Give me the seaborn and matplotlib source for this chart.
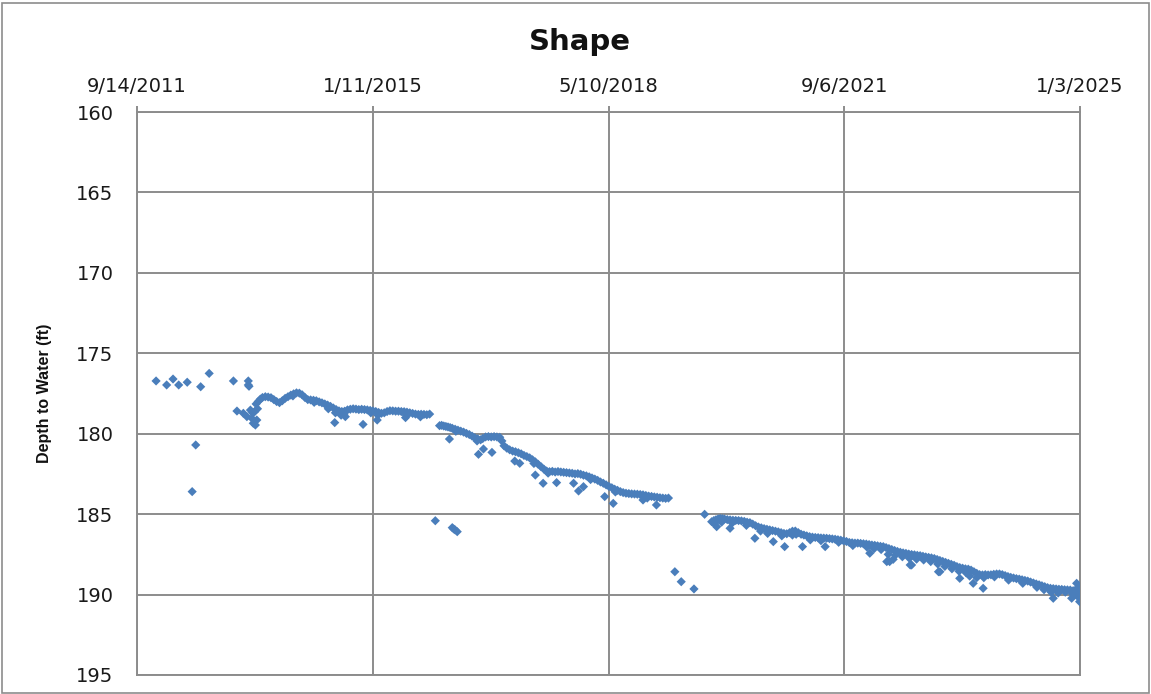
import numpy as np
import pandas as pd
import matplotlib
matplotlib.use("Agg")
import matplotlib.pyplot as plt
import seaborn as sns

# ---- data (decimal year, depth to water in ft) ----
early_years = [2011.97, 2012.12, 2012.21, 2012.29, 2012.41, 2012.60, 2012.72, 2012.53, 2012.48,
               2013.06, 2013.27, 2013.27, 2013.28, 2013.11, 2013.20,
               2013.25, 2013.30, 2013.32, 2013.34, 2013.37, 2013.39, 2013.36, 2013.33, 2013.40]
early_depth = [176.72, 176.97, 176.60, 176.97, 176.80, 177.08, 176.25, 180.70, 183.60,
               176.72, 176.72, 176.97, 177.05, 178.59, 178.73,
               178.94, 178.53, 179.04, 179.35, 179.46, 179.15, 178.63, 178.70, 178.45]

seg1_years = [2013.38, 2013.41, 2013.44, 2013.47, 2013.51, 2013.55, 2013.59, 2013.63, 2013.67, 2013.71,
              2013.75, 2013.79, 2013.83, 2013.87, 2013.91, 2013.95, 2013.99, 2014.03, 2014.07, 2014.11,
              2014.15, 2014.19, 2014.23, 2014.27, 2014.31, 2014.35, 2014.39, 2014.43, 2014.47, 2014.51,
              2014.55, 2014.59, 2014.63, 2014.67, 2014.71, 2014.75, 2014.79, 2014.83, 2014.87, 2014.91,
              2014.95, 2014.99, 2015.03, 2015.07, 2015.11, 2015.15, 2015.19, 2015.23, 2015.27, 2015.31,
              2015.35, 2015.39, 2015.43, 2015.47, 2015.51, 2015.55, 2015.59, 2015.63, 2015.67, 2015.71,
              2015.75, 2015.79, 2015.83,
              2014.40, 2014.50, 2014.58, 2014.62, 2015.00, 2015.10, 2015.50, 2015.70, 2013.90, 2014.20,
              2014.49, 2014.89, 2015.09, 2014.64, 2015.49]
seg1_depth = [178.15, 178.00, 177.85, 177.75, 177.70, 177.72, 177.76, 177.88, 178.00, 178.07,
              177.95, 177.80, 177.70, 177.60, 177.52, 177.46, 177.48, 177.58, 177.75, 177.88,
              177.90, 177.92, 177.95, 178.02, 178.08, 178.15, 178.22, 178.30, 178.40, 178.50,
              178.58, 178.62, 178.60, 178.52, 178.48, 178.45, 178.47, 178.50, 178.48, 178.50,
              178.52, 178.55, 178.58, 178.62, 178.68, 178.73, 178.70, 178.62, 178.57, 178.58,
              178.60, 178.60, 178.62, 178.63, 178.66, 178.70, 178.74, 178.78, 178.80, 178.79,
              178.80, 178.82, 178.78,
              178.45, 178.70, 178.85, 178.78, 178.70, 178.85, 178.85, 178.95, 177.65, 178.05,
              179.31, 179.42, 179.15, 178.94, 179.00]

seg2_years = [2015.97, 2016.00, 2016.03, 2016.06, 2016.09, 2016.12, 2016.15, 2016.19, 2016.23, 2016.27,
              2016.31, 2016.35, 2016.39, 2016.43, 2016.47, 2016.51, 2016.55, 2016.58, 2016.62, 2016.66,
              2016.70, 2016.74, 2016.78, 2016.82, 2016.85, 2016.88, 2016.92, 2016.96, 2017.00, 2017.04,
              2017.08, 2017.12, 2017.16, 2017.20, 2017.24, 2017.28, 2017.32, 2017.36, 2017.40, 2017.44,
              2017.48, 2017.52, 2017.56, 2017.60, 2017.64, 2017.68, 2017.72, 2017.76, 2017.80, 2017.84,
              2017.88, 2017.92, 2017.96, 2018.00, 2018.04, 2018.08, 2018.12, 2018.16, 2018.20, 2018.24,
              2018.28, 2018.32, 2018.36, 2018.40, 2018.44, 2018.48, 2018.52, 2018.56, 2018.60, 2018.64,
              2018.68, 2018.72, 2018.76, 2018.80, 2018.84, 2018.88, 2018.92, 2018.96, 2019.00, 2019.04,
              2019.08, 2019.12, 2019.16, 2019.20,
              2016.50, 2017.30, 2017.50, 2018.10, 2018.45, 2018.90, 2016.20,
              2016.11, 2016.52, 2016.59, 2016.71, 2017.03, 2017.10, 2017.32, 2017.43, 2017.62, 2017.86,
              2017.93, 2018.00, 2018.30, 2018.42, 2018.84, 2019.03]
seg2_depth = [179.50, 179.48, 179.52, 179.55, 179.58, 179.62, 179.66, 179.72, 179.78, 179.84,
              179.90, 179.98, 180.05, 180.15, 180.25, 180.32, 180.38, 180.30, 180.20, 180.18,
              180.20, 180.18, 180.20, 180.22, 180.45, 180.75, 180.90, 181.00, 181.08, 181.12,
              181.18, 181.25, 181.35, 181.42, 181.50, 181.62, 181.75, 181.90, 182.05, 182.20,
              182.32, 182.36, 182.34, 182.38, 182.35, 182.38, 182.40, 182.42, 182.44, 182.46,
              182.50, 182.48, 182.52, 182.58, 182.62, 182.68, 182.75, 182.82, 182.90, 183.00,
              183.08, 183.18, 183.28, 183.36, 183.45, 183.52, 183.60, 183.66, 183.70, 183.72,
              183.74, 183.75, 183.76, 183.78, 183.80, 183.84, 183.88, 183.90, 183.93, 183.95,
              183.98, 184.00, 184.02, 184.00,
              180.45, 181.85, 182.45, 182.85, 183.62, 184.00, 179.85,
              180.33, 181.28, 180.95, 181.16, 181.70, 181.84, 182.57, 183.08, 183.04, 183.08,
              183.56, 183.29, 183.91, 184.33, 184.12, 184.43]

low_years = [2015.91, 2016.15, 2016.17, 2016.19, 2016.22, 2019.29, 2019.38, 2019.56]
low_depth = [185.41, 185.84, 185.92, 185.98, 186.09, 188.58, 189.20, 189.65]

seg3_years = [2019.71, 2019.81, 2019.84, 2019.87, 2019.90, 2019.93, 2019.96, 2019.99, 2020.03, 2020.07,
              2020.11, 2020.15, 2020.19, 2020.23, 2020.27, 2020.31, 2020.35, 2020.39, 2020.43, 2020.47,
              2020.51, 2020.55, 2020.59, 2020.63, 2020.67, 2020.71, 2020.75, 2020.79, 2020.83, 2020.87,
              2020.91, 2020.95, 2020.99, 2021.03, 2021.07, 2021.11, 2021.15, 2021.19, 2021.23, 2021.27,
              2021.31, 2021.35, 2021.39, 2021.43, 2021.47, 2021.51, 2021.55, 2021.59, 2021.63, 2021.67,
              2021.71, 2021.75, 2021.79, 2021.83, 2021.87, 2021.91, 2021.95, 2021.99, 2022.03, 2022.07,
              2022.11, 2022.15, 2022.19, 2022.23, 2022.27, 2022.31, 2022.35, 2022.39, 2022.43, 2022.47,
              2022.51, 2022.55, 2022.59, 2022.63, 2022.67, 2022.71, 2022.75, 2022.79, 2022.83, 2022.87,
              2022.91, 2022.95, 2022.99, 2023.03, 2023.07, 2023.11, 2023.15, 2023.19, 2023.23, 2023.27,
              2023.31, 2023.35, 2023.39, 2023.43, 2023.47, 2023.51, 2023.55, 2023.59, 2023.63, 2023.67,
              2023.71, 2023.75, 2023.79, 2023.83, 2023.87, 2023.91, 2023.95, 2023.99, 2024.03, 2024.07,
              2024.11, 2024.15, 2024.19, 2024.23, 2024.27, 2024.31, 2024.35, 2024.39, 2024.43, 2024.47,
              2024.51, 2024.55, 2024.59, 2024.63, 2024.67, 2024.71, 2024.75, 2024.79, 2024.83, 2024.87,
              2024.91, 2024.95, 2024.99]
seg3_depth = [185.01, 185.47, 185.40, 185.35, 185.30, 185.27, 185.28, 185.30, 185.34, 185.36,
              185.38, 185.39, 185.40, 185.42, 185.45, 185.50, 185.53, 185.62, 185.72, 185.80,
              185.85, 185.90, 185.94, 185.98, 186.02, 186.06, 186.10, 186.15, 186.20, 186.22,
              186.15, 186.06, 186.05, 186.15, 186.25, 186.30, 186.35, 186.40, 186.43, 186.45,
              186.46, 186.48, 186.49, 186.50, 186.52, 186.54, 186.56, 186.59, 186.62, 186.66,
              186.70, 186.76, 186.78, 186.80, 186.80, 186.82, 186.84, 186.86, 186.89, 186.92,
              186.94, 186.97, 187.00, 187.02, 187.08, 187.14, 187.20, 187.26, 187.32, 187.37,
              187.41, 187.44, 187.48, 187.51, 187.53, 187.56, 187.58, 187.62, 187.66, 187.69,
              187.72, 187.76, 187.82, 187.88, 187.94, 188.00, 188.06, 188.12, 188.18, 188.26,
              188.32, 188.36, 188.40, 188.42, 188.48, 188.58, 188.68, 188.76, 188.78, 188.76,
              188.78, 188.77, 188.74, 188.72, 188.72, 188.76, 188.82, 188.88, 188.93, 188.97,
              189.01, 189.04, 189.08, 189.12, 189.16, 189.22, 189.28, 189.34, 189.39, 189.45,
              189.51, 189.57, 189.61, 189.63, 189.65, 189.67, 189.68, 189.70, 189.71, 189.72,
              189.76, 189.80, 189.85]

spread3_years = [2019.88, 2020.07, 2020.42, 2020.68, 2020.84, 2021.09, 2021.41, 2022.04, 2022.28, 2022.32,
                 2022.37, 2022.61, 2022.63, 2023.01, 2023.03, 2023.31, 2023.50, 2023.64, 2024.63, 2024.89,
                 2024.96, 2025.00,
                 2019.85, 2019.95, 2020.10, 2020.30, 2020.50, 2020.60, 2020.80, 2020.95, 2021.00, 2021.20,
                 2021.35, 2021.60, 2021.80, 2022.00, 2022.10, 2022.20, 2022.30, 2022.40, 2022.50, 2022.60,
                 2022.70, 2022.80, 2022.90, 2023.00, 2023.10, 2023.20, 2023.30, 2023.40, 2023.45, 2023.55,
                 2023.65, 2023.80, 2024.00, 2024.20, 2024.40, 2024.50, 2024.60, 2024.70, 2024.80, 2024.90,
                 2024.97, 2024.98]
spread3_depth = [185.78, 185.88, 186.50, 186.71, 187.02, 187.02, 187.02, 187.43, 187.95, 187.95,
                 187.81, 188.16, 188.16, 188.58, 188.58, 188.99, 189.30, 189.61, 190.23, 190.23,
                 189.30, 190.44,
                 185.60, 185.50, 185.55, 185.70, 186.05, 186.20, 186.35, 186.30, 186.25, 186.60,
                 186.65, 186.75, 186.95, 187.05, 187.15, 187.20, 187.50, 187.55, 187.65, 187.75,
                 187.80, 187.85, 187.95, 188.10, 188.25, 188.40, 188.55, 188.65, 188.85, 188.95,
                 188.95, 188.90, 189.10, 189.30, 189.55, 189.70, 189.85, 189.90, 189.85, 189.95,
                 190.10, 189.55]

tick_dates = ["2011-09-14", "2015-01-11", "2018-05-10", "2021-09-06", "2025-01-03"]
tick_labels = ["9/14/2011", "1/11/2015", "5/10/2018", "9/6/2021", "1/3/2025"]
y_ticks = [160, 165, 170, 175, 180, 185, 190, 195]


def year_to_date(y):
    yi = int(y)
    start = pd.Timestamp(f"{yi}-01-01")
    return start + pd.Timedelta(days=(y - yi) * 365.25)


years = early_years + seg1_years + seg2_years + low_years + seg3_years + spread3_years
depth = early_depth + seg1_depth + seg2_depth + low_depth + seg3_depth + spread3_depth
df = pd.DataFrame({"date": [year_to_date(y) for y in years], "depth": depth})

sns.set_style("white")
plt.rcParams['font.family'] = ['DejaVu Sans']

fig = plt.figure(figsize=(11.51, 6.94), dpi=100)
ax = fig.add_axes([137 / 1151, 1 - 675 / 694, (1080 - 137) / 1151, (675 - 112) / 694])

sns.scatterplot(data=df, x="date", y="depth", marker="D", s=22, color="#4A7EBB",
                edgecolor="none", linewidth=0, ax=ax, zorder=3)

ticks = pd.to_datetime(tick_dates)
ax.set_xlim(ticks[0], ticks[-1])
ax.set_ylim(195, 160)
ax.set_xticks(ticks)
ax.set_xticklabels(tick_labels)
ax.set_yticks(y_ticks)
ax.xaxis.tick_top()
ax.tick_params(axis="x", labelsize=14, pad=7, direction="out", length=4.5, width=1.4,
               color="#8C8C8C", labelcolor="#1A1A1A")
ax.tick_params(axis="y", labelsize=14, pad=9, direction="out", length=8, width=1.4,
               color="#8C8C8C", labelcolor="#1A1A1A")
ax.grid(True, color="#8C8C8C", linewidth=1.4)
for sp in ax.spines.values():
    sp.set_color("#8C8C8C")
    sp.set_linewidth(1.4)

ax.set_xlabel("")
ax.set_ylabel("Depth to Water (ft)", fontsize=11.5, fontweight="bold",
              family=["Liberation Sans", "DejaVu Sans"], color="#111111")
ax.yaxis.set_label_coords((52 - 137) / 943, 0.5)
fig.text(580 / 1151, 1 - 42 / 694, "Shape", ha="center", va="center",
         fontsize=21, fontweight="bold", color="#111111")

fig.patches.append(plt.Rectangle((0.002, 0.002), 0.996, 0.994, transform=fig.transFigure,
                                 fill=False, edgecolor="#8C8C8C", linewidth=1.2))

fig.savefig("out.png", dpi=100)
